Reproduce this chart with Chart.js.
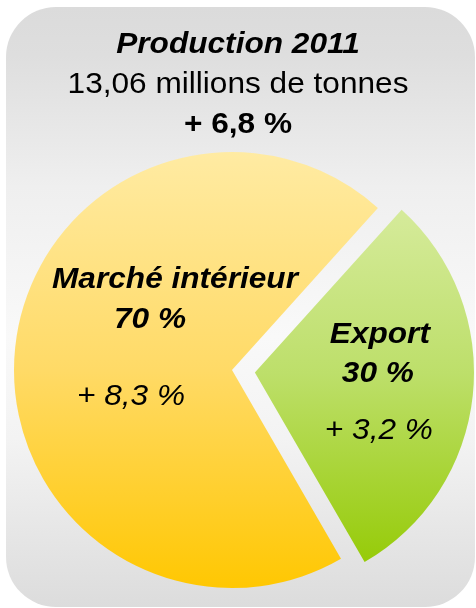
<!DOCTYPE html>
<html>
<head>
<meta charset="utf-8">
<script src="https://cdn.jsdelivr.net/npm/chart.js@4/dist/chart.umd.min.js"></script>
<style>
  html, body { margin: 0; padding: 0; background: #fff; }
  #wrap { position: relative; width: 476px; height: 608px; overflow: hidden; }
  #bg {
    position: absolute; left: 6px; top: 7px; width: 469px; height: 600px;
    border-radius: 50px;
    background: linear-gradient(to bottom, #dbdbdb 0%, #dedede 8%, #efefef 30%, #f9f9f9 55%, #f3f3f3 72%, #dcdcdc 100%);
  }
  #chart { position: absolute; left: 0; top: 0; }
</style>
</head>
<body>
<div id="wrap">
  <div id="bg"></div>
  <canvas id="chart" width="476" height="608"></canvas>
</div>
<script>
// data
const categories = ['Marché intérieur', 'Export'];
const shares = [70, 30];          // % of production
const growth = [8.3, 3.2];        // % change
const titleLines = ['Production 2011', '13,06 millions de tonnes', '+ 6,8 %'];

const FONT = '"Liberation Sans", Arial, sans-serif';
const STRETCH = 1.09;

function frNum(v) {
  return v.toFixed(1).replace('.', ',');
}

function sliceGradient(ctx, index) {
  const g = ctx.createLinearGradient(0, 150, 0, 592);
  if (index === 0) {
    g.addColorStop(0, '#ffeba3');
    g.addColorStop(0.5, '#ffda66');
    g.addColorStop(1, '#ffc700');
  } else {
    g.addColorStop(0.12, '#d6eb9c');
    g.addColorStop(0.5, '#bddf6a');
    g.addColorStop(0.93, '#96cb08');
  }
  return g;
}

function drawText(ctx, text, x, y, style) {
  ctx.save();
  ctx.font = style + ' 29px ' + FONT;
  ctx.fillStyle = '#000';
  ctx.textAlign = 'center';
  ctx.textBaseline = 'alphabetic';
  ctx.translate(x, y);
  ctx.scale(STRETCH, 1);
  ctx.fillText(text, 0, 0);
  ctx.restore();
}

// label offsets from each slice centre: [name, share, growth]
const labelOffsets = [
  [[-57, -82], [-82, -42], [-101, 35]],
  [[125, -29], [123, 10], [124, 67]]
];

const labelsPlugin = {
  id: 'sliceLabels',
  afterDatasetsDraw(chart) {
    const ctx = chart.ctx;
    const arcs = chart.getDatasetMeta(0).data;
    const offsets = chart.data.datasets[0].offset;

    drawText(ctx, titleLines[0], 238, 53, 'italic bold');
    drawText(ctx, titleLines[1], 238, 93, 'normal');
    drawText(ctx, titleLines[2], 238, 133, 'bold');

    arcs.forEach((arc, i) => {
      const mid = (arc.startAngle + arc.endAngle) / 2;
      const shift = offsets[i] / 4;
      const cx = arc.x + Math.cos(mid) * shift;
      const cy = arc.y + Math.sin(mid) * shift;
      const o = labelOffsets[i];
      drawText(ctx, categories[i], cx + o[0][0], cy + o[0][1], 'italic bold');
      drawText(ctx, shares[i] + ' %', cx + o[1][0], cy + o[1][1], 'italic bold');
      drawText(ctx, '+ ' + frNum(growth[i]) + ' %', cx + o[2][0], cy + o[2][1], 'italic');
    });
  }
};

const ctx = document.getElementById('chart').getContext('2d');
new Chart(ctx, {
  type: 'pie',
  data: {
    labels: categories,
    datasets: [{
      data: shares,
      backgroundColor: (c) => sliceGradient(c.chart.ctx, c.dataIndex),
      borderWidth: 0,
      offset: [0, 92]
    }]
  },
  options: {
    responsive: false,
    animation: false,
    devicePixelRatio: 1,
    rotation: 150,
    radius: 218,
    layout: {
      padding: { left: 0, right: 12, top: 150, bottom: 18 }
    },
    plugins: {
      legend: { display: false },
      tooltip: { enabled: false }
    },
    events: []
  },
  plugins: [labelsPlugin]
});
</script>
</body>
</html>
